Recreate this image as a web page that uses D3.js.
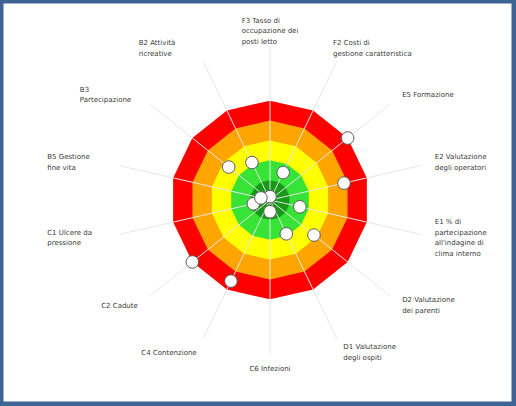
<!DOCTYPE html>
<html><head><meta charset="utf-8">
<script src="https://cdn.jsdelivr.net/npm/d3@7"></script>
<style>
html,body{margin:0;padding:0;background:#fff;}
svg{display:block;}
</style></head><body>
<svg id="c" width="516" height="406"></svg>
<script>
// ---- data ----
const categories = [
  ["F3 Tasso di","occupazione dei","posti letto"],
  ["F2 Costi di","gestione caratteristica"],
  ["E5 Formazione"],
  ["E2 Valutazione","degli operatori"],
  ["E1 % di","partecipazione","all'indagine di","clima interno"],
  ["D2 Valutazione","dei parenti"],
  ["D1 Valutazione","degli ospiti"],
  ["C6 Infezioni"],
  ["C4 Contenzione"],
  ["C2 Cadute"],
  ["C1 Ulcere da","pressione"],
  ["B5 Gestione","fine vita"],
  ["B3","Partecipazione"],
  ["B2 Attività","ricreative"]
];
const values = [0.17, 1.53, 5, 3.82, 1.54, 2.83, 1.89, 0.59, 4.53, 5, 0.86, 0.47, 2.66, 2.09];
const bandLevels = [5, 4, 3, 2, 1];
const bandColors = ["#ff0000", "#ffa500", "#ffff00", "#36e336", "#179917"];
const axisMax = 7.75;

// ---- layout ----
const W = 516, H = 406;
const cx = 270, cy = 200, paneR = 154;
const svg = d3.select("#c");

// frame
svg.append("rect").attr("x",0).attr("y",0).attr("width",W).attr("height",H).attr("fill","#3d6494");
svg.append("rect").attr("x",3.5).attr("y",3.5).attr("width",508).attr("height",398).attr("fill","#ffffff");

const n = categories.length;
const angle = d3.scaleLinear().domain([0, n]).range([0, 2*Math.PI]);
const r = d3.scaleLinear().domain([0, axisMax]).range([0, paneR]);
const px = (i, v) => cx + Math.sin(angle(i)) * r(v);
const py = (i, v) => cy - Math.cos(angle(i)) * r(v);

const g = svg.append("g");

// bands
const line = d3.line().x(d => d[0]).y(d => d[1]).curve(d3.curveLinearClosed);
bandLevels.forEach((lv, k) => {
  const pts = d3.range(n).map(i => [px(i, lv), py(i, lv)]);
  g.append("path").attr("d", line(pts)).attr("fill", bandColors[k]);
});

// grid lines
d3.range(n).forEach(i => {
  g.append("line")
    .attr("x1", cx).attr("y1", cy)
    .attr("x2", px(i, axisMax)).attr("y2", py(i, axisMax))
    .attr("stroke", "#e6e6e6").attr("stroke-width", 1);
});

// points
g.selectAll("circle.pt").data(values).join("circle")
  .attr("class","pt")
  .attr("cx", (d,i) => px(i, d)).attr("cy", (d,i) => py(i, d))
  .attr("r", 6.3)
  .attr("fill", "#ffffff").attr("stroke", "#5a5a5a").attr("stroke-width", 1);

// labels
const labelR = paneR + 15, lh = 10.7, boxW = 58;
categories.forEach((lines, i) => {
  const a = angle(i) * 180 / Math.PI;
  const ax = cx + Math.sin(angle(i)) * labelR;
  const ay = cy - Math.cos(angle(i)) * labelR;
  const t = svg.append("g").attr("font-family","'DejaVu Sans', sans-serif").attr("font-size","7px").attr("fill","#3a3a3a");
  const texts = lines.map((s, j) => t.append("text").text(s));
  const widths = texts.map(tx => tx.node().getComputedTextLength());
  const w = d3.max(widths);
  const bw = lines.length > 1 ? Math.max(boxW, w) : w;
  let left;
  if (a <= 20 || a >= 340 || Math.abs(a - 180) <= 20) left = ax - w/2;
  else if (a < 180) left = ax - Math.max(0, w - boxW)/2;
  else left = ax - Math.min(bw, boxW);
  const h = lines.length * lh;
  const top = ay - h/2;
  texts.forEach((tx, j) => tx.attr("x", left).attr("y", top + j*lh + 7.8));
});
</script>
</body></html>
